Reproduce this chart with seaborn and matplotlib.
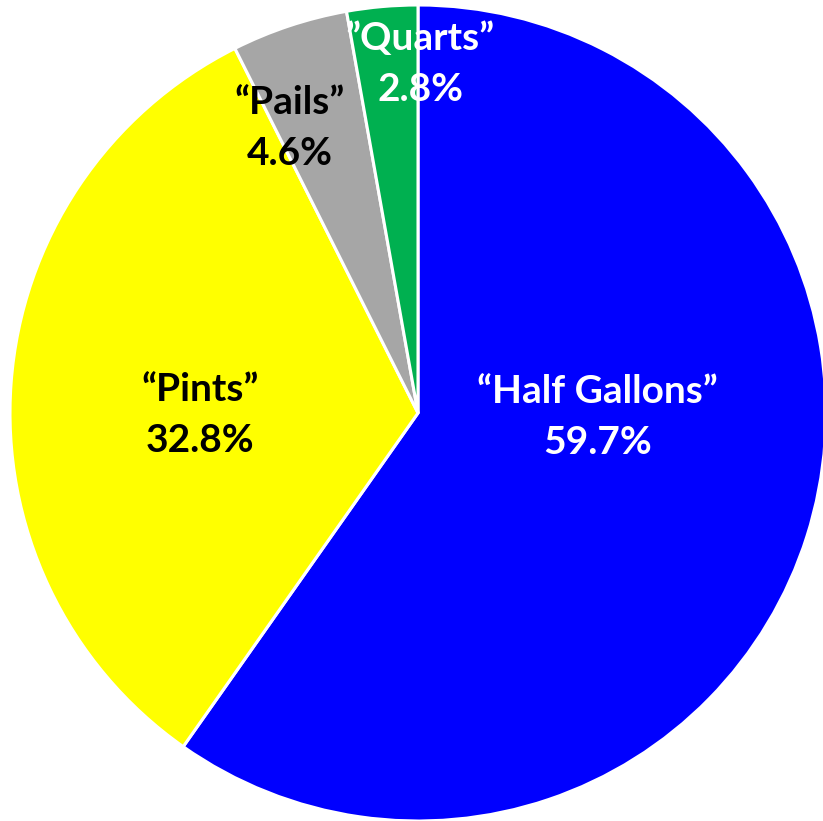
import matplotlib
matplotlib.use("Agg")
import matplotlib.pyplot as plt
import seaborn as sns

categories = ["“Half Gallons”", "“Pints”", "“Pails”", "”Quarts”"]
values = [59.7, 32.8, 4.6, 2.8]
pct_labels = ["59.7%", "32.8%", "4.6%", "2.8%"]
colors = ["#0000FF", "#FFFF00", "#A6A6A6", "#00B050"]
text_colors = ["white", "black", "black", "white"]
label_pos = [(0.44, -0.01), (-0.534, -0.005), (-0.314, 0.698), (0.005, 0.855)]

sns.set_style("white")
plt.rcParams["font.family"] = ["Lato", "DejaVu Sans"]

fig = plt.figure(figsize=(8.23, 8.21), dpi=100)
ax = fig.add_axes([10/823, 0/821, 816/823, 816/821])
ax.pie(values, colors=colors, startangle=90, counterclock=False, radius=1.0,
       wedgeprops=dict(edgecolor="white", linewidth=2.2))
for cat, pct, tc, (x, y) in zip(categories, pct_labels, text_colors, label_pos):
    ax.text(x, y, f"{cat}\n{pct}", ha="center", va="center", color=tc,
            fontsize=28, fontweight="bold", linespacing=1.55)
ax.set_xlim(-1, 1)
ax.set_ylim(-1, 1)
ax.set_aspect("equal")
ax.axis("off")
fig.savefig("out.png", dpi=100)
